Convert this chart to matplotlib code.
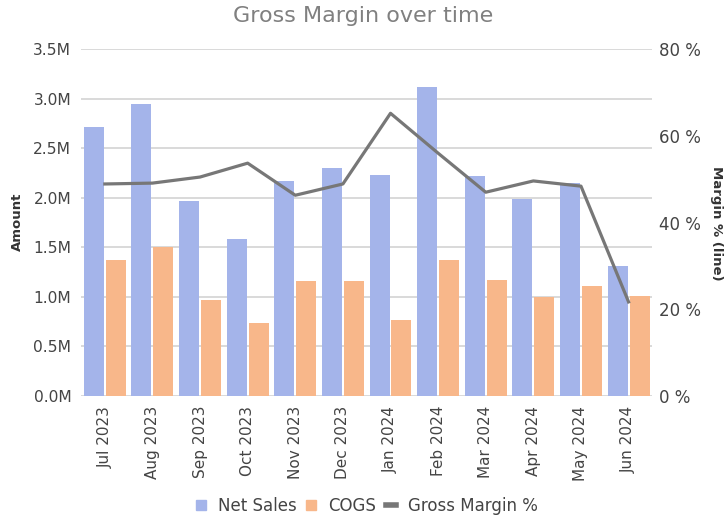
import numpy as np
import matplotlib
matplotlib.use("Agg")
from matplotlib import pyplot as plt
from matplotlib.ticker import FuncFormatter
from matplotlib.patches import Patch
from matplotlib.lines import Line2D

plt.rcParams["font.family"] = ["DejaVu Sans"]

months = ["Jul 2023", "Aug 2023", "Sep 2023", "Oct 2023", "Nov 2023", "Dec 2023",
          "Jan 2024", "Feb 2024", "Mar 2024", "Apr 2024", "May 2024", "Jun 2024"]
net_sales = [2.71, 2.95, 1.97, 1.58, 2.17, 2.30, 2.23, 3.12, 2.22, 1.99, 2.15, 1.31]  # millions
cogs = [1.37, 1.50, 0.97, 0.74, 1.16, 1.16, 0.77, 1.37, 1.17, 1.00, 1.11, 1.01]
margin = [48.9, 49.1, 50.5, 53.7, 46.3, 48.9, 65.2, 56.0, 47.0, 49.6, 48.4, 21.7]  # percent

blue = "#a4b4ea"
orange = "#f8b78a"
gray = "#777777"
text_col = "#444444"

fig = plt.figure(figsize=(7.26, 5.17), dpi=100)
ax = fig.add_axes([0.1116, 0.234, 0.787, 0.671])
x = np.arange(len(months))

ax.bar(x - 0.23, net_sales, width=0.42, color=blue, zorder=2)
ax.bar(x + 0.23, cogs, width=0.42, color=orange, zorder=2)

ax.set_xlim(-0.5, len(months) - 0.5)
ax.set_ylim(0, 3.5)
ax.set_yticks(np.arange(0, 3.51, 0.5))
ax.yaxis.set_major_formatter(FuncFormatter(lambda v, p: "%.1fM" % v))
ax.grid(axis="y", color="#d3d3d3", linewidth=1.2, zorder=0)
ax.set_axisbelow(True)
for s in ax.spines.values():
    s.set_visible(False)
ax.tick_params(axis="y", length=0, labelsize=11.2, labelcolor=text_col, pad=7)
ax.set_xticks(x)
ax.set_xticklabels(months, rotation=90)
ax.tick_params(axis="x", length=0, labelsize=11, labelcolor=text_col, pad=7)

ax2 = ax.twinx()
ax2.plot(x, margin, color=gray, linewidth=2.3, zorder=3)
ax2.set_ylim(0, 80)
ax2.set_yticks([0, 20, 40, 60, 80])
ax2.yaxis.set_major_formatter(FuncFormatter(lambda v, p: "%d %%" % v))
ax2.tick_params(axis="y", length=0, labelsize=12, labelcolor=text_col, pad=5)
for s in ax2.spines.values():
    s.set_visible(False)

# axis titles placed by hand, like the reference
fig.text(17 / 726, 1 - 222 / 517, "Amount", rotation=90, fontsize=9.5,
         fontweight="bold", color="#333333", ha="center", va="center")
fig.text(717 / 726, 1 - 223 / 517, "Margin % (line)", rotation=270, fontsize=9.5,
         fontweight="bold", color="#333333", ha="center", va="center")

fig.suptitle("Gross Margin over time", y=0.988, fontsize=16, color="#808080")

handles = [Patch(color=blue), Patch(color=orange),
           Line2D([0], [0], color=gray, linewidth=4)]
fig.legend(handles, ["Net Sales", "COGS", "Gross Margin %"], loc="lower center",
           bbox_to_anchor=(0.505, -0.025), ncol=3, frameon=False, fontsize=12,
           handlelength=0.6, handleheight=0.6, handletextpad=0.7, columnspacing=0.6,
           labelcolor=text_col)

fig.savefig("out.png", dpi=100)
